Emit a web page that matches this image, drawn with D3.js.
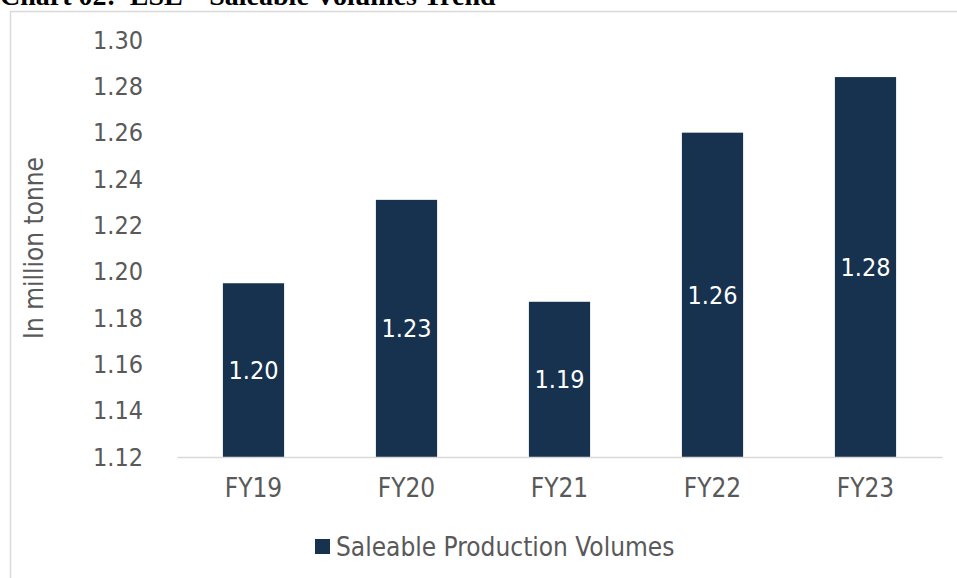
<!DOCTYPE html>
<html><head><meta charset="utf-8">
<script src="https://cdn.jsdelivr.net/npm/d3@7"></script>
<style>body{margin:0;background:#fff}svg{display:block}
.t{font-family:'DejaVu Sans Condensed','DejaVu Sans',Verdana,sans-serif;font-stretch:condensed}</style>
</head><body>
<svg id="c" width="957" height="578"></svg>
<script>
const categories = ["FY19","FY20","FY21","FY22","FY23"];
const values = [1.195, 1.231, 1.187, 1.260, 1.284];
const labels = ["1.20","1.23","1.19","1.26","1.28"];
const yTicks = [1.12,1.14,1.16,1.18,1.20,1.22,1.24,1.26,1.28,1.30];
const seriesName = "Saleable Production Volumes";
const title = "Chart 02:  ESL – Saleable Volumes Trend";
const yTitle = "In million tonne";

const svg = d3.select("#c");
const txt = "#595959";
const barColor = "#17324f";
const fs = 25;

// outer frame
svg.append("rect").attr("x",10.5).attr("y",11.5).attr("width",1000).attr("height",1000)
  .attr("fill","none").attr("stroke","#d9d9d9").attr("stroke-width",1.5);

svg.append("text").attr("x",0).attr("y",5).text(title)
  .attr("xml:space","preserve").style("white-space","pre")
  .attr("font-family","'Liberation Serif','Times New Roman',serif").attr("font-weight","bold")
  .attr("font-size",28).attr("fill","#000");

const x = d3.scaleBand().domain(categories).range([177,942]).paddingInner(0.6).paddingOuter(0.3);
const y = d3.scaleLinear().domain([1.12,1.30]).range([457,40]);

// bars
svg.selectAll("rect.bar").data(values).join("rect").attr("class","bar")
  .attr("x",(d,i)=>x(categories[i])).attr("width",x.bandwidth())
  .attr("y",d=>y(d)).attr("height",d=>y(1.12)-y(d)).attr("fill",barColor);

// value labels
svg.selectAll("text.val").data(values).join("text").attr("class","val t")
  .attr("x",(d,i)=>x(categories[i])+x.bandwidth()/2)
  .attr("y",d=>(y(d)+y(1.12))/2).attr("dy","0.35em")
  .attr("text-anchor","middle").attr("fill","#fff").attr("font-size",fs)
  .text((d,i)=>labels[i]);

// y axis
const ya = svg.append("g").attr("transform","translate(177,0)")
  .call(d3.axisLeft(y).tickValues(yTicks).tickFormat(d3.format(".2f")).tickSize(0).tickPadding(34));
ya.select(".domain").remove();
ya.selectAll("text").attr("class","t").attr("font-family",null).attr("font-size",fs).attr("fill",txt);

// x axis
const xa = svg.append("g").attr("transform","translate(0,457)")
  .call(d3.axisBottom(x).tickSize(0).tickPadding(22));
xa.select(".domain").attr("stroke","#d9d9d9").attr("stroke-width",1.5);
xa.selectAll("text").attr("class","t").attr("font-family",null).attr("font-size",26).attr("fill",txt);

// y title
svg.append("text").attr("class","t").attr("transform","translate(43,248) rotate(-90)")
  .attr("text-anchor","middle").attr("font-size",26).attr("fill",txt).text(yTitle);

// legend
const lg = svg.append("g").attr("transform","translate(315,539)");
lg.append("rect").attr("width",15).attr("height",15).attr("fill",barColor);
lg.append("text").attr("class","t").attr("x",21).attr("y",8).attr("dy","0.35em")
  .attr("font-size",26).attr("fill",txt).text(seriesName);
</script>
</body></html>
